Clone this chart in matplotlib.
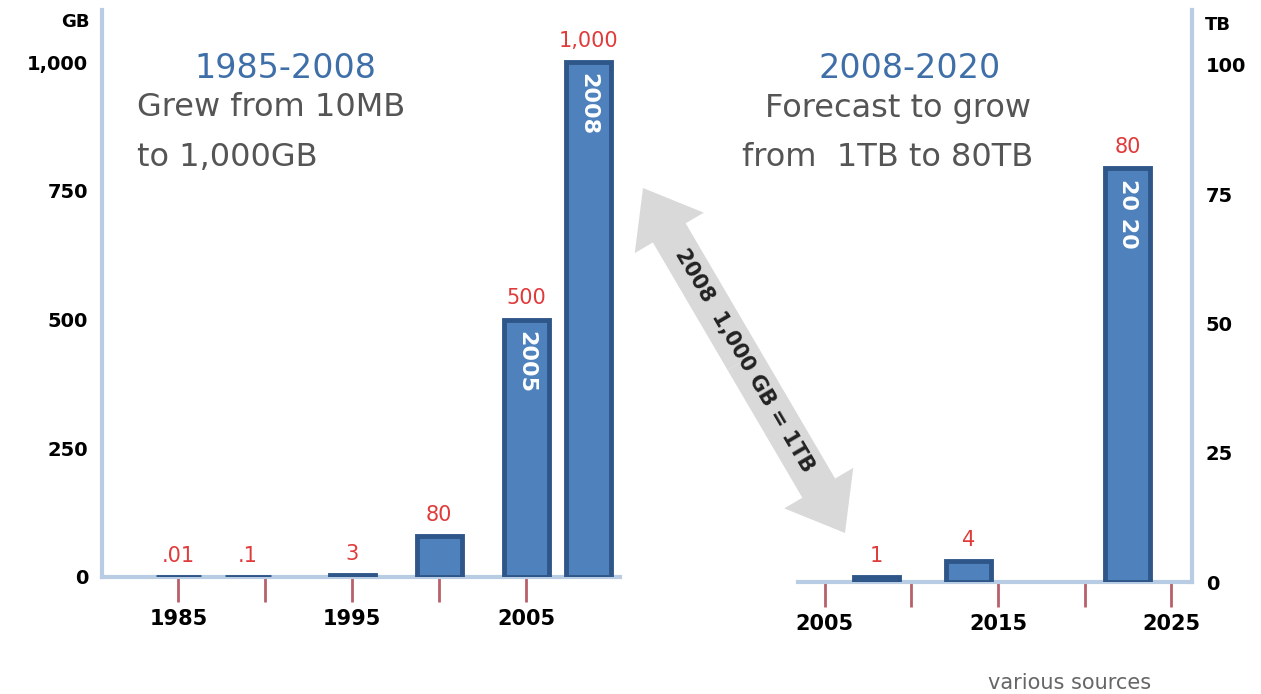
import matplotlib.pyplot as plt
from matplotlib.patches import FancyArrow
from matplotlib.ticker import FixedLocator

# Left panel: hard drive capacity 1985-2008 (GB)
years_gb = [1985, 1989, 1995, 2000, 2005, 2008.6]
sizes_gb = [0.01, 0.1, 3, 80, 500, 1000]
inner_gb = {4: '2005', 5: '2008'}

# Right panel: forecast 2008-2020 (TB)
years_tb = [2008, 2013.3, 2022.5]
sizes_tb = [1, 4, 80]
inner_tb = {2: '20 20'}

W, H = 1261, 694
BAR = '#4f81bd'
EDGE = '#2f5688'
AXC = '#b8cce4'
TICKC = '#b8606a'
RED = '#e03a3a'


def fx(x):
    return x / W


def fy(y):
    return 1 - y / H


def fmt(v):
    return f'{v:,.0f}' if v >= 1 else str(v).lstrip('0')


def panel(ax, xs, ys, inner, side):
    ax.bar(xs, ys, width=2.6, color=BAR, edgecolor=EDGE, linewidth=3.5, zorder=3)
    for i, (x, y) in enumerate(zip(xs, ys)):
        ax.annotate(fmt(y), (x, y), xytext=(0, 8), textcoords='offset points',
                    ha='center', va='bottom', color=RED, fontsize=15)
        if i in inner:
            ax.annotate(inner[i], (x, y), xytext=(0, -8), textcoords='offset points',
                        ha='center', va='top', rotation=270, color='white',
                        fontsize=16, fontweight='bold')
    for s in ['top', 'left', 'right', 'bottom']:
        ax.spines[s].set_visible(False)
    ax.spines['bottom'].set_visible(True)
    ax.spines[side].set_visible(True)
    for s in ['bottom', side]:
        ax.spines[s].set_color(AXC)
        ax.spines[s].set_linewidth(3)
    ax.tick_params(axis='y', length=0, labelsize=14, pad=10)
    ax.tick_params(axis='x', which='both', length=18, width=2, color=TICKC,
                   labelsize=15, pad=5, direction='out')
    for lab in ax.get_xticklabels() + ax.get_yticklabels():
        lab.set_fontweight('bold')
    ax.set_facecolor('none')


fig = plt.figure(figsize=(W / 100, H / 100), dpi=100)

# left axes
axl = fig.add_axes([fx(102), 1 - 577 / H, 518 / W, 567 / H])
axl.set_xlim(1980.6, 2010.4)
axl.set_ylim(0, 1101)
axl.set_xticks([1985, 1995, 2005])
axl.xaxis.set_minor_locator(FixedLocator([1990, 2000]))
axl.set_yticks([0, 250, 500, 750, 1000])
axl.set_yticklabels(['0', '250', '500', '750', '1,000'])
panel(axl, years_gb, sizes_gb, inner_gb, 'left')

# right axes
axr = fig.add_axes([fx(798), 1 - 582 / H, 394 / W, 572 / H])
axr.set_xlim(2003.45, 2026.2)
axr.set_ylim(0, 110.6)
axr.set_xticks([2005, 2015, 2025])
axr.xaxis.set_minor_locator(FixedLocator([2010, 2020]))
axr.set_yticks([0, 25, 50, 75, 100])
axr.yaxis.tick_right()
panel(axr, years_tb, sizes_tb, inner_tb, 'right')

# units
fig.text(fx(90), fy(22), 'GB', ha='right', va='center', fontsize=13, fontweight='bold')
fig.text(fx(1205), fy(25), 'TB', ha='left', va='center', fontsize=13, fontweight='bold')

# panel titles
fig.text(fx(285), fy(68), '1985-2008', ha='center', va='center', fontsize=24, color='#3f6fa8')
fig.text(fx(137), fy(108), 'Grew from 10MB', ha='left', va='center', fontsize=23, color='#555555')
fig.text(fx(137), fy(158), 'to 1,000GB', ha='left', va='center', fontsize=23, color='#555555')
fig.text(fx(910), fy(68), '2008-2020', ha='center', va='center', fontsize=24, color='#3f6fa8')
fig.text(fx(898), fy(108), 'Forecast to grow', ha='center', va='center', fontsize=23, color='#555555')
fig.text(fx(888), fy(158), 'from  1TB to 80TB', ha='center', va='center', fontsize=23, color='#555555')
fig.text(fx(988), fy(683), 'various sources', ha='left', va='center', fontsize=15, color='#666666')

# double arrow 2008 1,000 GB = 1TB
ov = fig.add_axes([0, 0, 1, 1])
ov.set_xlim(0, W)
ov.set_ylim(H, 0)
ov.axis('off')
ov.patch.set_alpha(0)
mx, my = 744, 360.5
for tx, ty in [(643, 188), (845, 533)]:
    ov.add_patch(FancyArrow(mx, my, tx - mx, ty - my, width=38, head_width=80,
                            head_length=52, length_includes_head=True,
                            color='#d9d9d9', linewidth=0))
ov.text(mx, my, '2008  1,000 GB = 1TB', rotation=-59.6, rotation_mode='anchor',
        ha='center', va='center', fontsize=15, fontweight='bold', color='#222222')

fig.savefig('out.png', dpi=100)
